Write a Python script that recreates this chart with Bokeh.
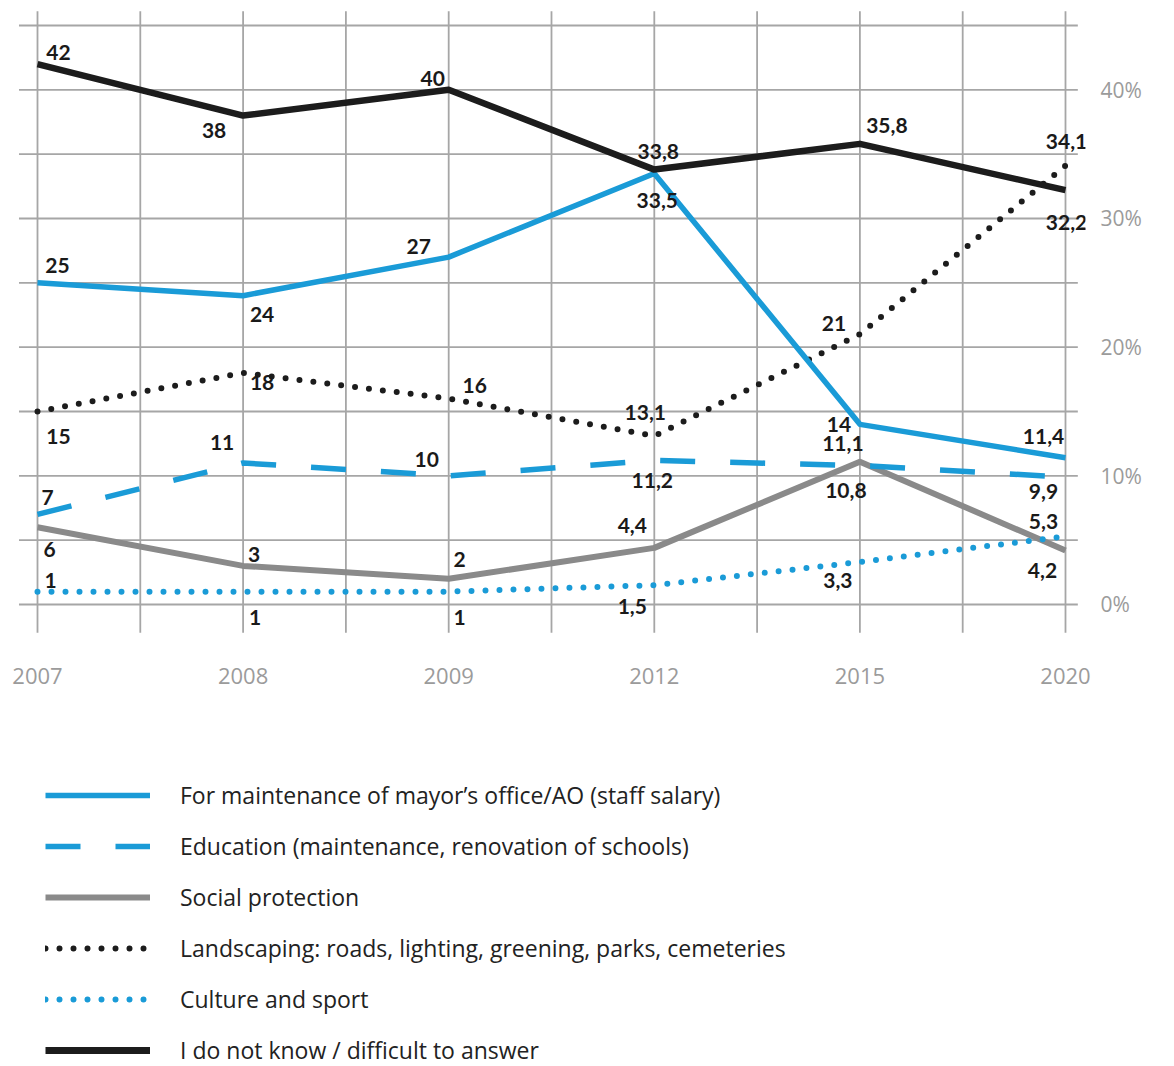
import numpy as np
from bokeh.plotting import figure
from bokeh.layouts import column
from bokeh.models import ColumnDataSource, Range1d, FixedTicker, Legend, LegendItem
from bokeh.core.properties import value
from bokeh.embed import file_html
from bokeh.resources import INLINE

# ---------------- data ----------------
years = ["2007", "2008", "2009", "2012", "2015", "2020"]
mayor_office = [25, 24, 27, 33.5, 14, 11.4]
education = [7, 11, 10, 11.2, 10.8, 9.9]
social_protection = [6, 3, 2, 4.4, 11.1, 4.2]
landscaping = [15, 18, 16, 13.1, 21, 34.1]
culture_sport = [1, 1, 1, 1.5, 3.3, 5.3]
dont_know = [42, 38, 40, 33.8, 35.8, 32.2]

series_labels = [
    "For maintenance of mayor\u2019s office/AO (staff salary)",
    "Education (maintenance, renovation of schools)",
    "Social protection",
    "Landscaping: roads, lighting, greening, parks, cemeteries",
    "Culture and sport",
    "I do not know / difficult to answer",
]
y_ticks = [0, 10, 20, 30, 40]
y_tick_labels = ["0%", "10%", "20%", "30%", "40%"]

# ---------------- styling ----------------
BLUE = "#1a9bd7"
GRAY = "#8a8a8a"
BLACK = "#1c1c1c"
GRID = "#a6a6a6"
TICK_COLOR = "#9b9b9b"
LABEL_COLOR = "#1a1a1a"

# style of each series: (color, width, dash, cap)
styles = {
    "mayor": (BLUE, 5.5, "solid", "butt"),
    "education": (BLUE, 5.5, "35 35", "butt"),
    "social": (GRAY, 6, "solid", "butt"),
    "landscaping": (BLACK, 6, "0 14", "round"),
    "culture": (BLUE, 6, "0 14", "round"),
    "dont_know": (BLACK, 6.5, "solid", "butt"),
}

# label offsets (screen px) for each point's value label
label_offsets = {
    "mayor": [(20, -17), (19, 19), (-30, -11), (3, 27), (-21, 0), (-22, -21)],
    "education": [(10, -17), (-21, -20), (-22, -16), (-2, 20), (-14, 25), (-22, 14)],
    "social": [(12, 22), (11, -11), (11, -19), (-22, -22), (-17, -18), (-23, 20)],
    "landscaping": [(21, 25), (19, 10), (26, -13), (-9, -23), (-26, -11), (1, -24)],
    "culture": [(13, -11), (12, 26), (11, 26), (-22, 21), (-22, 18), (-22, -15)],
    "dont_know": [(21, -12), (-29, 15), (-16, -11), (4, -18), (27, -18), (1, 32)],
}

series = [("mayor", mayor_office), ("education", education), ("social", social_protection),
          ("landscaping", landscaping), ("culture", culture_sport), ("dont_know", dont_know)]
draw_order = ["social", "culture", "education", "landscaping", "mayor", "dont_know"]

xs = list(range(len(years)))

# ---------------- chart ----------------
p = figure(
    width=1174, height=706,
    x_range=Range1d(-0.17996, 5.0973),
    y_range=Range1d(-2.798, 46.942),
    output_backend="svg", toolbar_location=None,
    y_axis_location="right",
    min_border_left=0, min_border_top=0, min_border_right=89, min_border_bottom=66,
)
p.outline_line_color = None
p.grid.visible = False
p.background_fill_color = "white"
p.border_fill_color = "white"

# custom grid lines (with small overhangs as in the original)
vx = np.arange(0, 5.001, 0.5)
p.segment(x0=vx, y0=-2.2, x1=vx, y1=46.1, line_color=GRID, line_width=1.8)
hy = np.arange(0, 45.001, 5)
p.segment(x0=-0.09, y0=hy, x1=5.06, y1=hy, line_color=GRID, line_width=1.8)

data = dict(series)
for key in draw_order:
    c, w, d, cap = styles[key]
    p.line(xs, data[key], line_color=c, line_width=w, line_dash=d,
           line_cap=cap, line_join="round")


def fmt(v):
    return ("%g" % v).replace(".", ",")


for key, vals in series:
    offs = label_offsets[key]
    src = ColumnDataSource(dict(
        x=xs, y=vals, text=[fmt(v) for v in vals],
        xo=[o[0] for o in offs], yo=[o[1] for o in offs],
    ))
    p.text(x="x", y="y", text="text", x_offset="xo", y_offset="yo", source=src,
           text_align="center", text_baseline="middle",
           text_font=value("Lato"), text_font_style="bold", text_font_size="21px",
           text_color=LABEL_COLOR)

# axes
xa = p.xaxis[0]
xa.ticker = FixedTicker(ticks=xs)
xa.major_label_overrides = {i: y for i, y in zip(xs, years)}
xa.axis_line_color = None
xa.major_tick_line_color = None
xa.minor_tick_line_color = None
xa.major_tick_out = 0
xa.major_label_standoff = 27
xa.major_label_text_font = "Open Sans"
xa.major_label_text_font_size = "22px"
xa.major_label_text_color = TICK_COLOR

ya = p.yaxis[0]
ya.ticker = FixedTicker(ticks=y_ticks)
ya.major_label_overrides = {t: l for t, l in zip(y_ticks, y_tick_labels)}
ya.axis_line_color = None
ya.major_tick_line_color = None
ya.minor_tick_line_color = None
ya.major_tick_out = 0
ya.major_label_standoff = 15
ya.major_label_text_font = "Open Sans"
ya.major_label_text_font_size = "21px"
ya.major_label_text_color = TICK_COLOR

# ---------------- legend panel ----------------
# the same series are drawn here outside the visible range; only their legend samples show
lg = figure(
    width=1174, height=360, x_range=Range1d(100, 101), y_range=Range1d(1000, 1001),
    output_backend="svg", toolbar_location=None,
    x_axis_location=None, y_axis_location=None,
    min_border_left=0, min_border_top=0, min_border_right=0, min_border_bottom=0,
)
lg.outline_line_color = None
lg.grid.visible = False

legend_renderers = []
for key, vals in series:
    c, w, d, cap = styles[key]
    if key == "dont_know":
        w = 7
    legend_renderers.append(lg.line(xs, vals, line_color=c, line_width=w, line_dash=d, line_cap=cap))

legend = Legend(
    items=[LegendItem(label=lab, renderers=[r]) for lab, r in zip(series_labels, legend_renderers)],
    location=(45, 0), orientation="vertical",
    glyph_width=105, glyph_height=32, label_height=32, spacing=19, label_standoff=30,
    padding=0, margin=0, border_line_alpha=0, background_fill_alpha=0,
    label_text_font="Open Sans", label_text_font_size="23px", label_text_color="#222222",
)
lg.add_layout(legend)

layout = column(p, lg, spacing=0)
open("out.html", "w").write(file_html(layout, INLINE))
